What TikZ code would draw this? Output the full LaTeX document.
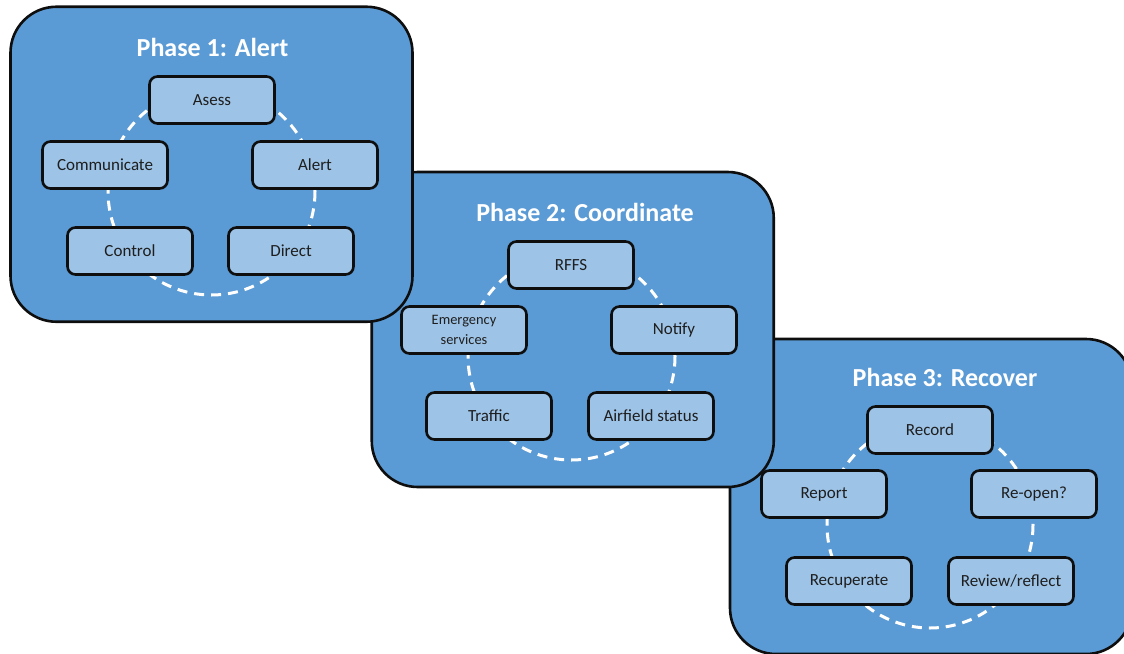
\documentclass[tikz,border=0pt]{standalone}
\usepackage{fontspec}
\setmainfont{Carlito}
\definecolor{panelblue}{RGB}{91,155,213}
\definecolor{boxblue}{RGB}{157,195,230}
\definecolor{edge}{RGB}{14,14,14}
\definecolor{ink}{RGB}{30,30,30}
\tikzset{
  panel/.style={draw=edge, fill=panelblue, line width=2.6pt, rounded corners=46pt,
    minimum width=402pt, minimum height=315pt, inner sep=0pt},
  item/.style={draw=edge, fill=boxblue, line width=2.6pt, rounded corners=8pt,
    minimum width=125pt, minimum height=47pt, inner sep=0pt, text=ink,
    font=\fontsize{17}{20}\selectfont, align=center},
  small/.style={font=\fontsize{14.4}{20}\selectfont},
  ptitle/.style={text=white, font=\bfseries\fontsize{26}{30}\selectfont, inner sep=0pt},
  ring/.style={draw=white, line width=3pt, dash pattern=on 10pt off 7pt}
}
\begin{document}
\begin{tikzpicture}[x=1pt,y=-1pt]
\useasboundingbox (0,0) rectangle (1124,653);
\clip (0,0) rectangle (1124,653);
% Panel 3
\node[panel] (p3) at (931,496.5) {};
\coordinate (c3) at (930,525);
\draw[ring] (c3) circle[radius=103];
\node[ptitle] (t3) at (945,377) {Phase 3: Recover};
\node[item] (record) at (930,430) {Record};
\node[item] (report) at (824,494) {Report};
\node[item] (reopen) at (1034,494) {Re-open?};
\node[item] (recup) at (849,581) {Recuperate};
\node[item] (review) at (1011,581) {Review/reflect};
% Panel 2
\node[panel] (p2) at (572.75,329.5) {};
\coordinate (c2) at (571.5,356.5);
\draw[ring] (c2) circle[radius=103.5];
\node[ptitle] (t2) at (585,212) {Phase 2: Coordinate};
\node[item] (rffs) at (571,265) {RFFS};
\node[item,small] (emerg) at (464,330) {Emergency\\services};
\node[item] (notify) at (674,330) {Notify};
\node[item] (traffic) at (489,416) {Traffic};
\node[item] (airfield) at (651,416) {Airfield status};
% Panel 1
\node[panel] (p1) at (211.5,164.25) {};
\coordinate (c1) at (211.5,191.5);
\draw[ring] (c1) circle[radius=103.5];
\node[ptitle] (t1) at (212.5,47) {Phase 1: Alert};
\node[item] (asess) at (212,100) {Asess};
\node[item] (comm) at (105,165) {Communicate};
\node[item] (alert) at (315,165) {Alert};
\node[item] (control) at (130,251) {Control};
\node[item] (direct) at (291,251) {Direct};
\end{tikzpicture}
\end{document}
